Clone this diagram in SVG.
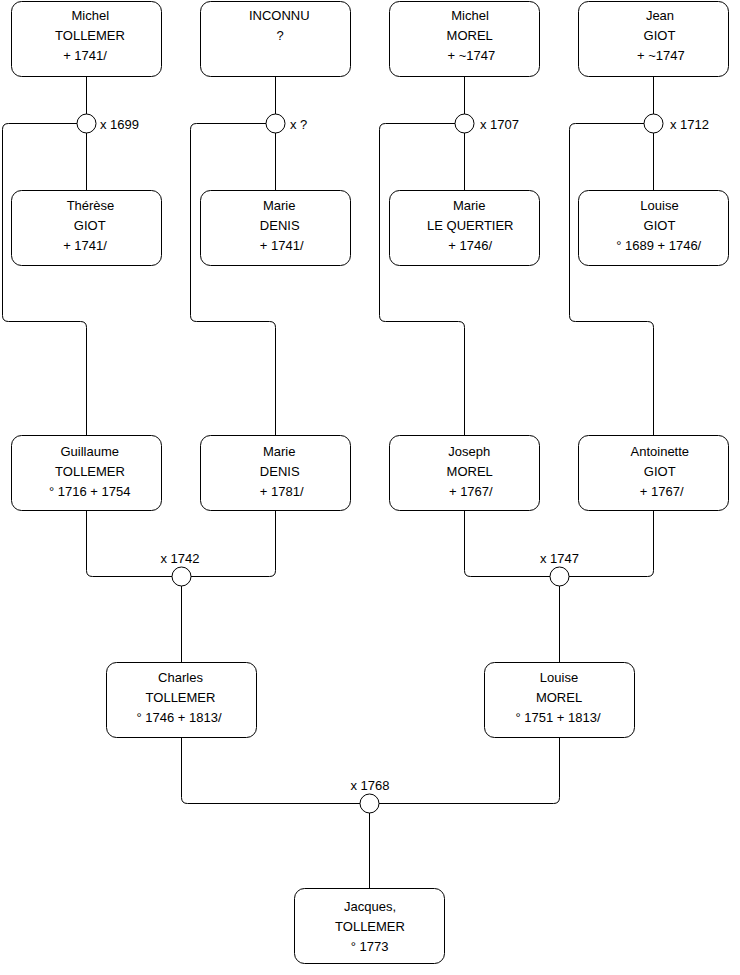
<svg xmlns="http://www.w3.org/2000/svg" width="740" height="975" viewBox="0 0 740 975">
<style>
.box{fill:#fff;stroke:#000;stroke-width:1}
.dot{fill:#fff;stroke:#000;stroke-width:1}
.ln{fill:none;stroke:#000;stroke-width:1}
text{font-family:"Liberation Sans",Arial,sans-serif;font-size:13px;fill:#000;text-anchor:middle}
.lbl{text-anchor:start}
</style>
<rect width="740" height="975" fill="#fff"/>
<g id="connectors">
<path class="ln" d="M86.5,76.5 V190.5"/>
<path class="ln" d="M275.5,76.5 V190.5"/>
<path class="ln" d="M464.5,76.5 V190.5"/>
<path class="ln" d="M653.5,76.5 V190.5"/>
<path class="ln" d="M77,123.5 H8.5 Q2.5,123.5 2.5,129.5 V315.5 Q2.5,321.5 8.5,321.5 H80.5 Q86.5,321.5 86.5,327.5 V435.5"/>
<path class="ln" d="M266,123.5 H196.5 Q190.5,123.5 190.5,129.5 V315.5 Q190.5,321.5 196.5,321.5 H269.5 Q275.5,321.5 275.5,327.5 V435.5"/>
<path class="ln" d="M455,123.5 H385.5 Q379.5,123.5 379.5,129.5 V315.5 Q379.5,321.5 385.5,321.5 H458.5 Q464.5,321.5 464.5,327.5 V435.5"/>
<path class="ln" d="M644,123.5 H575.5 Q569.5,123.5 569.5,129.5 V315.5 Q569.5,321.5 575.5,321.5 H647.5 Q653.5,321.5 653.5,327.5 V435.5"/>
<path class="ln" d="M86.5,510.5 V570.5 Q86.5,576.5 92.5,576.5 H172"/>
<path class="ln" d="M275.5,510.5 V570.5 Q275.5,576.5 269.5,576.5 H191"/>
<path class="ln" d="M181.5,586 V662.5"/>
<path class="ln" d="M464.5,510.5 V570.5 Q464.5,576.5 470.5,576.5 H550"/>
<path class="ln" d="M653.5,510.5 V570.5 Q653.5,576.5 647.5,576.5 H569"/>
<path class="ln" d="M559.5,586 V662.5"/>
<path class="ln" d="M181.5,737.5 V797.5 Q181.5,803.5 187.5,803.5 H360"/>
<path class="ln" d="M559.5,737.5 V797.5 Q559.5,803.5 553.5,803.5 H379"/>
<path class="ln" d="M369.5,813 V888.5"/>
</g>
<g id="m1699"><circle class="dot" cx="86.5" cy="123.5" r="9.5"/><text class="lbl" x="100" y="128.5">x 1699</text></g>
<g id="m_unknown"><circle class="dot" cx="275.5" cy="123.5" r="9.5"/><text class="lbl" x="290" y="128.5">x ?</text></g>
<g id="m1707"><circle class="dot" cx="464.5" cy="123.5" r="9.5"/><text class="lbl" x="480" y="128.5">x 1707</text></g>
<g id="m1712"><circle class="dot" cx="653.5" cy="123.5" r="9.5"/><text class="lbl" x="670" y="128.5">x 1712</text></g>
<g id="m1742"><circle class="dot" cx="181.5" cy="576.5" r="9.5"/><text x="180" y="562.5">x 1742</text></g>
<g id="m1747"><circle class="dot" cx="559.5" cy="576.5" r="9.5"/><text x="559.5" y="563">x 1747</text></g>
<g id="m1768"><circle class="dot" cx="369.5" cy="803.5" r="9.5"/><text x="370" y="789.5">x 1768</text></g>

<g id="michel_tollemer"><rect class="box" x="11.5" y="1.5" width="150" height="75" rx="10"/>
<text x="90.3" y="19.5">Michel</text><text x="90" y="39.5">TOLLEMER</text><text x="85" y="59.5">+ 1741/</text></g>
<g id="inconnu"><rect class="box" x="200.5" y="1.5" width="150" height="75" rx="10"/>
<text x="279.3" y="19.5">INCONNU</text><text x="280" y="39.5">?</text></g>
<g id="michel_morel"><rect class="box" x="389.5" y="1.5" width="150" height="75" rx="10"/>
<text x="470" y="19.5">Michel</text><text x="469.7" y="39.5">MOREL</text><text x="471.3" y="59.5">+ ~1747</text></g>
<g id="jean_giot"><rect class="box" x="578.5" y="1.5" width="150" height="75" rx="10"/>
<text x="660" y="19.5">Jean</text><text x="659.5" y="39.5">GIOT</text><text x="660.8" y="59.5">+ ~1747</text></g>

<g id="therese_giot"><rect class="box" x="11.5" y="190.5" width="150" height="75" rx="10"/>
<text x="90.5" y="210">Thérèse</text><text x="89.7" y="230">GIOT</text><text x="85" y="250">+ 1741/</text></g>
<g id="marie_denis_1"><rect class="box" x="200.5" y="190.5" width="150" height="75" rx="10"/>
<text x="279.2" y="210">Marie</text><text x="279.7" y="230">DENIS</text><text x="281.7" y="250">+ 1741/</text></g>
<g id="marie_le_quertier"><rect class="box" x="389.5" y="190.5" width="150" height="75" rx="10"/>
<text x="469.2" y="210">Marie</text><text x="470.3" y="230">LE QUERTIER</text><text x="470.2" y="250">+ 1746/</text></g>
<g id="louise_giot"><rect class="box" x="578.5" y="190.5" width="150" height="75" rx="10"/>
<text x="659.5" y="210">Louise</text><text x="659.5" y="230">GIOT</text><text x="658.7" y="250">° 1689 + 1746/</text></g>

<g id="guillaume_tollemer"><rect class="box" x="11.5" y="435.5" width="150" height="75" rx="10"/>
<text x="89.7" y="456">Guillaume</text><text x="90" y="476">TOLLEMER</text><text x="89.7" y="496">° 1716 + 1754</text></g>
<g id="marie_denis_2"><rect class="box" x="200.5" y="435.5" width="150" height="75" rx="10"/>
<text x="279.2" y="456">Marie</text><text x="279.7" y="476">DENIS</text><text x="281.7" y="496">+ 1781/</text></g>
<g id="joseph_morel"><rect class="box" x="389.5" y="435.5" width="150" height="75" rx="10"/>
<text x="469.2" y="456">Joseph</text><text x="469.7" y="476">MOREL</text><text x="470.8" y="496">+ 1767/</text></g>
<g id="antoinette_giot"><rect class="box" x="578.5" y="435.5" width="150" height="75" rx="10"/>
<text x="659.8" y="456">Antoinette</text><text x="659.7" y="476">GIOT</text><text x="661.7" y="496">+ 1767/</text></g>

<g id="charles_tollemer"><rect class="box" x="106.5" y="662.5" width="150" height="75" rx="10"/>
<text x="180.5" y="682">Charles</text><text x="180.5" y="702">TOLLEMER</text><text x="179" y="722">° 1746 + 1813/</text></g>
<g id="louise_morel"><rect class="box" x="484.5" y="662.5" width="150" height="75" rx="10"/>
<text x="559" y="682">Louise</text><text x="559" y="702">MOREL</text><text x="558" y="722">° 1751 + 1813/</text></g>

<g id="jacques_tollemer"><rect class="box" x="294.5" y="888.5" width="150" height="75" rx="10"/>
<text x="370" y="910.5">Jacques,</text><text x="370" y="930.5">TOLLEMER</text><text x="369.5" y="950.5">° 1773</text></g>
</svg>
